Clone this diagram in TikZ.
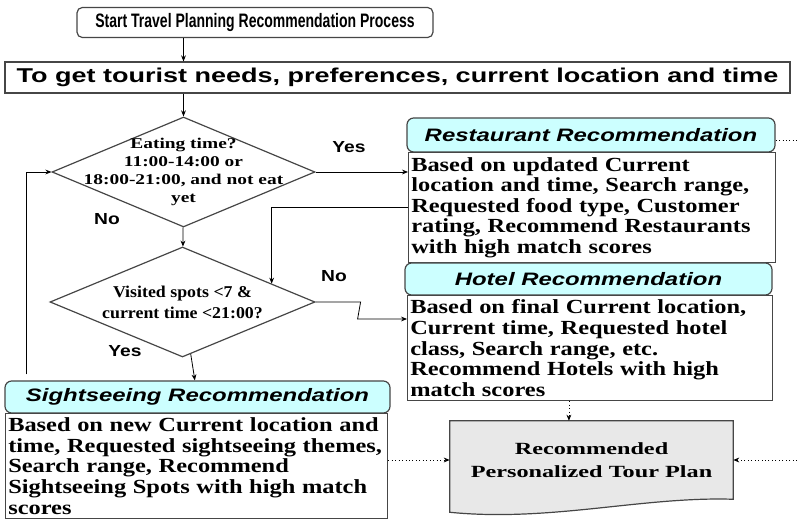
\documentclass[tikz,border=0pt]{standalone}
\usepackage{fontspec}
\setmainfont{Liberation Serif}
\setsansfont{Liberation Sans}
\newfontfamily\titlefont{Liberation Sans}[FakeStretch=0.72]
\newfontfamily\needsfont{Liberation Sans}[FakeStretch=1.35]
\newfontfamily\headfont{Liberation Sans}[FakeStretch=1.33]
\newfontfamily\answerfont{Liberation Sans}[FakeStretch=1.2]
\newfontfamily\bodyfont{Liberation Serif}[FakeStretch=1.22]
\newfontfamily\planfont{Liberation Serif}[FakeStretch=1.42]
\newfontfamily\eatfont{Liberation Serif}[FakeStretch=1.3]
\newfontfamily\visitfont{Liberation Serif}[FakeStretch=1.08]
\usetikzlibrary{shapes.geometric}
\usetikzlibrary{arrows.meta}
\usetikzlibrary{calc}
\definecolor{headcyan}{RGB}{204,255,255}
\definecolor{boxgray}{RGB}{70,70,70}
\definecolor{plangray}{RGB}{232,232,232}
\hyphenpenalty=10000
\exhyphenpenalty=10000

\tikzset{
  frame/.style={draw=boxgray, line width=0.9pt, fill=white, inner sep=2pt},
  titlebox/.style={frame},
  headbox/.style={frame, fill=headcyan, rounded corners=5pt,
    font=\headfont\bfseries\itshape\fontsize{13.5}{15}\selectfont},
  bodybox/.style={frame, align=left, anchor=north west,
    font=\bodyfont\bfseries\fontsize{15}{15.4}\selectfont},
  decision/.style={diamond, draw=boxgray, line width=0.9pt, inner sep=0pt},
  conn/.style={-{Stealth[length=4.5pt,width=3.6pt]}, line width=0.6pt},
  dotconn/.style={conn, dotted},
  answer/.style={font=\answerfont\bfseries\fontsize{12}{14}\selectfont},
}

\begin{document}
\begin{tikzpicture}[x=0.75pt,y=-0.75pt]
  \useasboundingbox (0,0) rectangle (797,520);

  \node[titlebox, rounded corners=4pt, minimum width=267pt, minimum height=22.5pt,
        font=\titlefont\bfseries\fontsize{14.6}{16}\selectfont]
    (start) at (255,22.5) {Start Travel Planning Recommendation Process};
  \node[titlebox, minimum width=588.75pt, minimum height=23.25pt,
        font=\needsfont\bfseries\fontsize{15}{17}\selectfont]
    (needs) at (397.5,77.5) {To get tourist needs, preferences, current location and time};

  % the two decisions
  \node[decision, minimum width=197.25pt, minimum height=82.5pt,
        label={[align=center, font=\eatfont\bfseries\fontsize{11.2}{13.5}\selectfont]center:{Eating time?\\11:00-14:00 or\\18:00-21:00, and not eat\\yet}}]
    (eat) at (183.5,172) {};
  \node[decision, minimum width=198.75pt, minimum height=82.5pt,
        label={[align=center, font=\visitfont\bfseries\fontsize{12.4}{15.75}\selectfont]center:{Visited spots <7 \&\\current time <21:00?}}]
    (visit) at (182.5,302) {};

  % restaurant
  \node[headbox, minimum width=276pt, minimum height=25.5pt]
    (resthead) at (591,135) {Restaurant Recommendation};
  \node[bodybox, text width=271pt, minimum height=82.5pt]
    (restbody) at (408,152) {Based on updated Current\\location and time, Search range,\\Requested food type, Customer\\rating, Recommend Restaurants\\with high match scores};

  % hotel
  \node[headbox, minimum width=275.25pt, minimum height=24pt]
    (hotelhead) at (588.5,279) {Hotel Recommendation};
  \node[bodybox, text width=269.5pt, minimum height=78.75pt]
    (hotelbody) at (407,295) {Based on final Current location,\\Current time, Requested hotel\\class, Search range, etc.\\Recommend Hotels with high\\match scores};

  % sightseeing
  \node[headbox, minimum width=288.75pt, minimum height=24pt]
    (sighthead) at (197.5,397) {Sightseeing Recommendation};
  \node[bodybox, text width=282.5pt, minimum height=78.75pt]
    (sightbody) at (5,413) {Based on new Current location and\\time, Requested sightseeing themes,\\Search range, Recommend\\Sightseeing Spots with high match\\scores};

  % final plan, a document with a wavy lower edge
  \node[minimum width=212.25pt, minimum height=58.5pt] (plan) at (591.5,460) {};
  \draw[draw=boxgray, line width=0.9pt, fill=plangray]
    (plan.north west) -- (plan.north east) -- (plan.south east)
    .. controls +(-90,-3) and +(100,10) .. ($(plan.south west)+(0,13)$) -- cycle;
  \node[align=center, font=\planfont\bfseries\fontsize{12.8}{17.5}\selectfont]
    at (plan) {Recommended\\Personalized Tour Plan};

  % flow
  \draw[conn] (start.south -| eat.north) -- (needs.north -| eat.north);
  \draw[conn] (needs.south -| eat.north) -- (eat.north);
  \draw[conn] (eat) -- (visit);
  \draw[conn] (visit) -- (sighthead);
  \draw[conn] (eat.east) -- (eat.east -| restbody.west);
  \draw[conn] (restbody.west) -| ($(visit.north)!0.67!(visit.east)$);
  \draw[conn] (visit.east) -- ++(45,0) -- ++(-3,17) coordinate (kink) -- (kink -| hotelbody.west);
  \coordinate (loop) at ($(sighthead.north west)+(22,-6)$);
  \draw[conn] (loop) |- (eat.west);

  \node[answer] at (349,147) {Yes};
  \node[answer] at (107,219) {No};
  \node[answer] at (334,276) {No};
  \node[answer] at (125,351) {Yes};

  % towards the plan
  \coordinate (restout) at (797,140);
  \coordinate (planin) at (797,460);
  \draw[dotted, line width=0.6pt] ($(resthead.east)+(0,5)$) -- (restout);
  \draw[dotconn] ($(hotelbody.south)+(-21,0)$) coordinate (hb) -- (hb |- plan.north);
  \draw[dotconn] (sightbody.east |- plan.west) -- (plan.west);
  \draw[dotconn] (planin) -- (plan.east);
\end{tikzpicture}
\end{document}
